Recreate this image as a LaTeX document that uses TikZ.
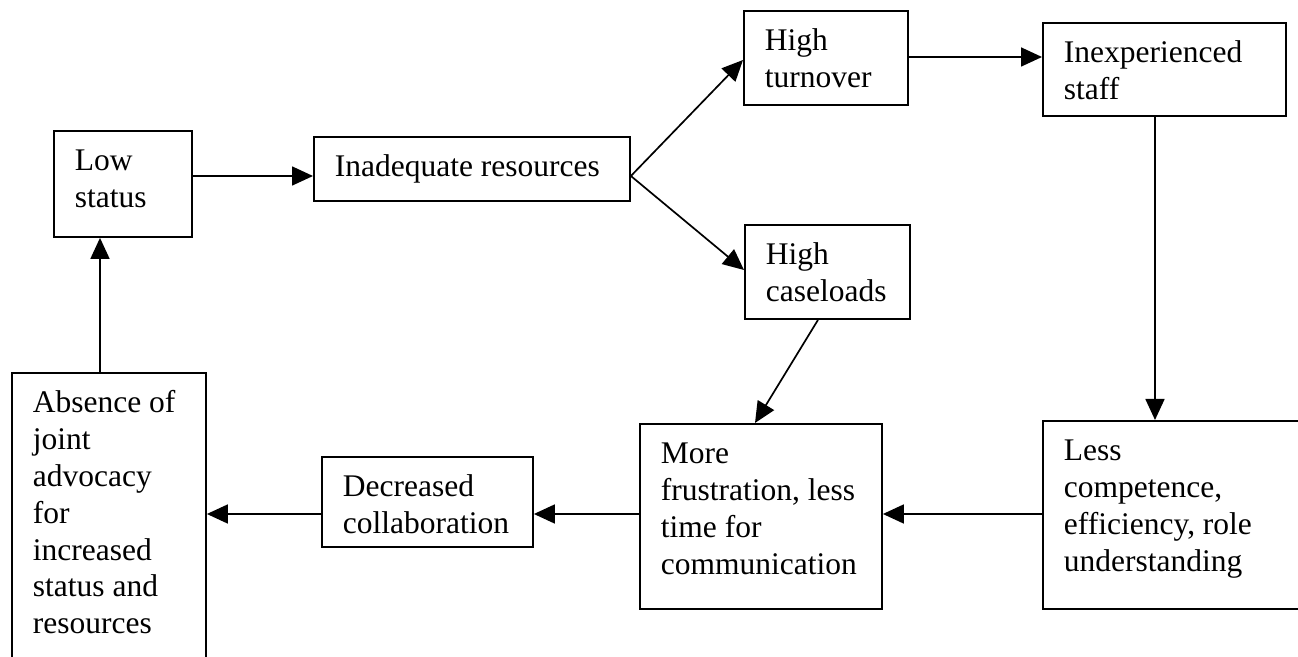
\documentclass[tikz,border=0pt]{standalone}
\usepackage{fontspec}
\setmainfont{Liberation Serif}
\usetikzlibrary{arrows.meta,calc}

% a text box of fixed size: text top-left aligned, first baseline 20pt below the top
\newcommand\boxtxt[3]{\parbox[t][#2][t]{#1}{\raggedright\leftskip=10.5pt\parindent=0pt\rule{0pt}{20pt}#3}}

\begin{document}
\begin{tikzpicture}[x=0.5pt,y=-0.5pt,
  box/.style={draw, line width=0.95pt, inner sep=0pt, anchor=north west,
    font=\fontsize{15.75pt}{18.4pt}\selectfont},
  arr/.style={line width=0.85pt, -{Triangle[length=10.5pt,width=9.5pt]}}]
\useasboundingbox (0,0) rectangle (1298,657);
\clip (0,0) rectangle (1298,657);
\fill[white] (0,0) rectangle (1298,657);

% boxes
\node[box] (low)   at (53,130)   {\boxtxt{69pt}{53pt}{Low\\status}};
\node[box] (inad)  at (313,136)  {\boxtxt{158pt}{32pt}{Inadequate resources}};
\node[box] (turn)  at (743,10)   {\boxtxt{82pt}{47pt}{High\\turnover}};
\node[box] (inexp) at (1042,22)  {\boxtxt{121.5pt}{46.5pt}{Inexperienced\\staff}};
\node[box] (case)  at (744,224)  {\boxtxt{82.5pt}{47pt}{High\\caseloads}};
\node[box] (less)  at (1042,420) {\boxtxt{131pt}{94pt}{Less\\competence,\\efficiency, role\\understanding}};
\node[box] (more)  at (639,423)  {\boxtxt{121pt}{92.5pt}{More\\frustration, less\\time for\\communication}};
\node[box] (dec)   at (321,456)  {\boxtxt{105.5pt}{45pt}{Decreased\\collaboration}};
\node[box] (abs)   at (11,372)   {\boxtxt{97pt}{145pt}{Absence of\\joint\\advocacy\\for\\increased\\status and\\resources}};

% arrows
\draw[arr] ($(abs.north west)+(89,0)$)  -- ($(low.south west)+(47,0)$);
\draw[arr] ($(low.north east)+(0,46)$)  -- ($(inad.north west)+(0,40)$);
\draw[arr] ($(inad.north east)+(0,40)$) -- ($(turn.north west)+(0,50)$);
\draw[arr] ($(inad.north east)+(0,40)$) -- ($(case.north west)+(0,46)$);
\draw[arr] ($(turn.north east)+(0,47)$) -- ($(inexp.north west)+(0,35)$);
\draw[arr] ($(inexp.south west)+(113,0)$) -- ($(less.north west)+(113,0)$);
\draw[arr] ($(case.south west)+(74,0)$) -- ($(more.north west)+(116,0)$);
\draw[arr] ($(less.north west)+(0,94)$) -- ($(more.north east)+(0,91)$);
\draw[arr] ($(more.north west)+(0,91)$) -- ($(dec.north east)+(0,58)$);
\draw[arr] ($(dec.north west)+(0,58)$)  -- ($(abs.north east)+(0,142)$);
\end{tikzpicture}
\end{document}
